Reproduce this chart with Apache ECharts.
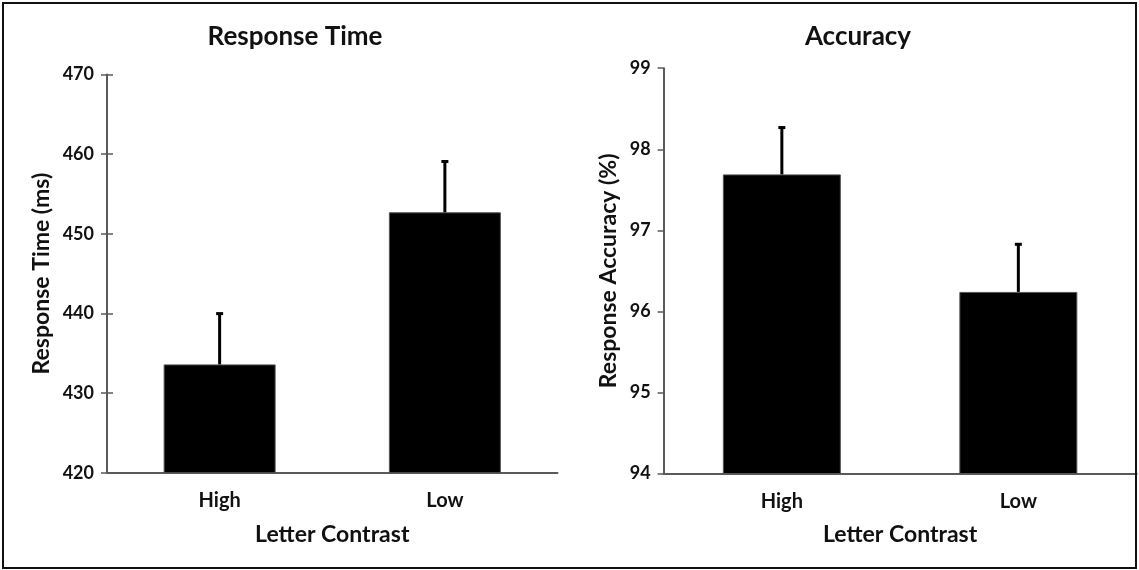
<!DOCTYPE html>
<html>
<head>
<meta charset="utf-8">
<script src="https://cdn.jsdelivr.net/npm/echarts@6/dist/echarts.min.js"></script>
<style>
html,body{margin:0;padding:0;background:#fff;}
#chart{width:1139px;height:570px;}
</style>
</head>
<body>
<div id="chart"></div>
<script>
const categories = ['High', 'Low'];
const rtMeans = [433.6, 452.7];
const rtErrors = [6.5, 6.5];
const accMeans = [97.69, 96.24];
const accErrors = [0.59, 0.60];
const rtTicks = [420, 430, 440, 450, 460, 470];
const accTicks = [94, 95, 96, 97, 98, 99];

const FONT = 'Lato';
const TXT = '#111';
const AXIS = '#5a5a5a';

function errorSeries(idx, means, errs) {
  return {
    type: 'custom',
    xAxisIndex: idx, yAxisIndex: idx * 2,
    z: 5,
    data: means.map((m, i) => [i, m, m + errs[i]]),
    renderItem: function (params, api) {
      const lo = api.coord([api.value(0), api.value(1)]);
      const hi = api.coord([api.value(0), api.value(2)]);
      return {
        type: 'group',
        children: [
          {type: 'line', shape: {x1: lo[0], y1: lo[1], x2: hi[0], y2: hi[1]}, style: {stroke: '#000', lineWidth: 3}},
          {type: 'line', shape: {x1: hi[0] - 3.5, y1: hi[1] + 1, x2: hi[0] + 3.5, y2: hi[1] + 1}, style: {stroke: '#000', lineWidth: 3}}
        ]
      };
    }
  };
}

function yAxes(gridIndex, ticks, name, nameGap, crossTicks) {
  const base = {
    type: 'value', gridIndex: gridIndex,
    min: ticks[0], max: ticks[ticks.length - 1], interval: ticks[1] - ticks[0],
    splitLine: {show: false}
  };
  return [
    Object.assign({}, base, {
      name: name, nameLocation: 'middle', nameGap: nameGap,
      nameTextStyle: {fontFamily: FONT, fontWeight: 'bold', fontSize: 23, color: TXT},
      axisLine: {show: true, lineStyle: {color: AXIS, width: 2}},
      axisTick: {show: true, length: 6, lineStyle: {color: AXIS, width: 1.5}},
      axisLabel: {fontFamily: FONT, fontWeight: 'bold', fontSize: 18, color: TXT, margin: 13}
    }),
    Object.assign({}, base, {
      position: 'left',
      axisLine: {show: false},
      axisTick: {show: crossTicks, inside: true, length: 6, lineStyle: {color: AXIS, width: 1.5}},
      axisLabel: {show: false}
    })
  ];
}

function xAxis(gridIndex) {
  return {
    type: 'category', gridIndex: gridIndex, data: categories,
    name: 'Letter Contrast', nameLocation: 'middle', nameGap: 50,
    nameTextStyle: {fontFamily: FONT, fontWeight: 'bold', fontSize: 23, color: TXT},
    axisLine: {show: true, lineStyle: {color: AXIS, width: 2}},
    axisTick: {show: false},
    axisLabel: {fontFamily: FONT, fontWeight: 'bold', fontSize: 20, color: TXT, margin: 18}
  };
}

const chart = echarts.init(document.getElementById('chart'));
chart.setOption({
  animation: false,
  backgroundColor: '#fff',
  title: [
    {text: 'Response Time', left: 290, top: 19, textAlign: 'center',
     textStyle: {fontFamily: FONT, fontWeight: 'bold', fontSize: 26, color: TXT}},
    {text: 'Accuracy', left: 853, top: 19, textAlign: 'center',
     textStyle: {fontFamily: FONT, fontWeight: 'bold', fontSize: 26, color: TXT}}
  ],
  graphic: [
    {type: 'rect', shape: {x: 3, y: 3, width: 1133, height: 565},
     style: {fill: 'none', stroke: '#111', lineWidth: 2}, z: 100}
  ],
  grid: [
    {left: 107, top: 74.5, width: 450.5, height: 398.2},
    {left: 663.6, top: 68.2, width: 473, height: 405.3}
  ],
  xAxis: [xAxis(0), xAxis(1)],
  yAxis: [].concat(
    yAxes(0, rtTicks, 'Response Time (ms)', 54, true),
    yAxes(1, accTicks, 'Response Accuracy (%)', 44, false)
  ),
  series: [
    {type: 'bar', xAxisIndex: 0, yAxisIndex: 0, data: rtMeans, barWidth: 112,
     itemStyle: {color: '#000', borderColor: '#555', borderWidth: 1}},
    errorSeries(0, rtMeans, rtErrors),
    {type: 'bar', xAxisIndex: 1, yAxisIndex: 2, data: accMeans, barWidth: 118,
     itemStyle: {color: '#000', borderColor: '#555', borderWidth: 1}},
    errorSeries(1, accMeans, accErrors)
  ]
});
</script>
</body>
</html>
